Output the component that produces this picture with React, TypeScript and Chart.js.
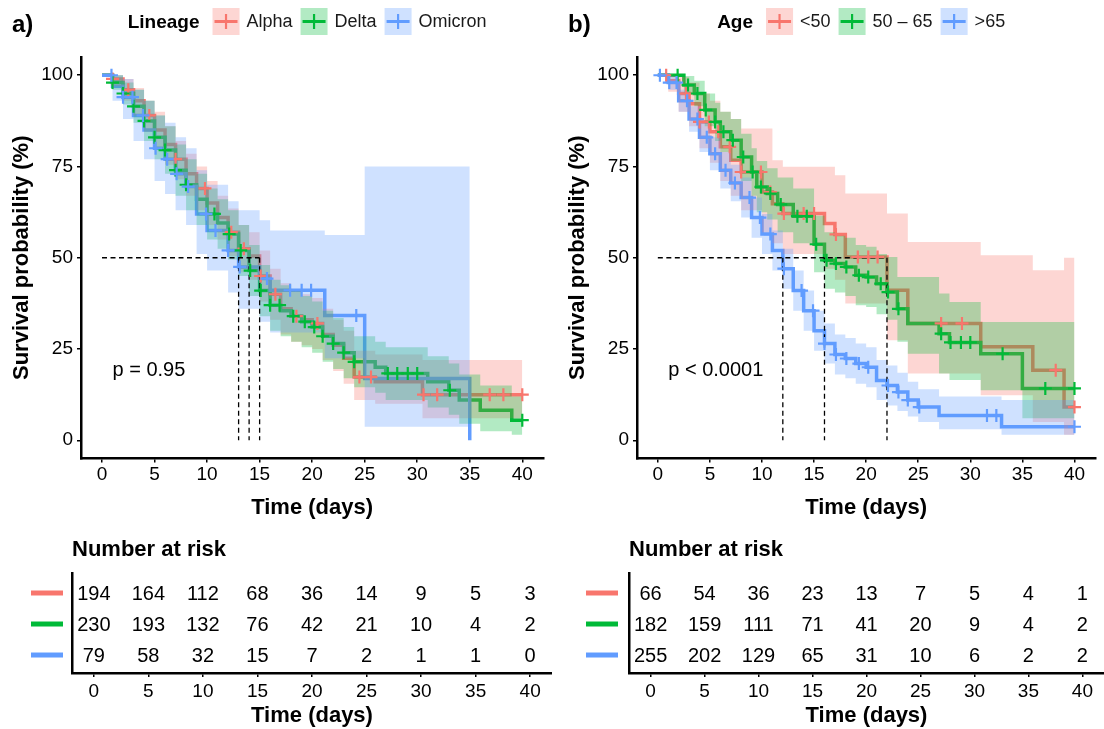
import React, { useEffect, useRef } from 'react';
import { Chart, registerables } from 'chart.js';

Chart.register(...registerables);

const FONT = '"Liberation Sans", Arial, Helvetica, sans-serif';

// ---------------- Panel a: Lineage ----------------
const lineageLabels = ['Alpha', 'Delta', 'Omicron'];
const lineageColors = ['#F8766D', '#00BA38', '#619CFF'];
const lineageMedians = [15, 14, 13];

const alphaTime = [0, 1, 2, 3, 4, 5, 6, 7, 8, 9, 10, 11, 12, 13, 14, 15, 16, 17, 18, 19, 20, 21, 22, 23, 24, 26, 30.5];
const alphaSurv = [100, 99, 96, 93, 89, 85, 81, 77, 73, 69, 65, 61, 57, 52.5, 50.5, 45, 40, 36, 34, 33, 32, 29, 26, 22.5, 17.3, 16, 12.5];
const alphaUpper = [100, 100, 99, 96.5, 93, 90, 86, 82, 78.5, 75, 71, 67, 63.5, 59, 57, 52, 47, 43, 41, 40, 39, 36, 33, 30, 24.5, 23.5, 22];
const alphaLower = [100, 97, 93, 89, 84.5, 80, 75.5, 71.5, 67, 63, 59, 55, 50.5, 46, 44, 38, 33, 29, 27, 26, 25, 22, 19, 15.5, 11, 10, 6];
const alphaEnd = 40;
const alphaCensor = [1, 2.5, 4.5, 7, 9.8, 12.3, 13.5, 15.1, 16.5, 18.5, 20.5, 24.5, 25.6, 30.6, 31.9, 36.9, 38.2, 40];

const deltaTime = [0, 1, 2, 3, 4, 5, 6, 7, 8, 9, 10, 11, 12, 13, 14, 15, 16, 17, 18, 19, 20, 21, 22, 23, 24, 26, 27, 31, 33, 34, 36, 39];
const deltaSurv = [100, 98, 95, 91.5, 87.5, 83, 79.5, 74, 70, 66, 62, 59.5, 56.5, 52, 46.5, 41, 37, 35.5, 34, 32.5, 31, 28.5, 26.5, 24, 21.5, 20, 18.3, 16, 13.7, 11, 8.2, 5.5];
const deltaUpper = [100, 100, 98, 96, 93, 89, 86, 81, 77, 73, 69, 66, 63, 59, 53.5, 48, 44, 42.5, 41, 39.5, 38, 35.5, 33.5, 31, 28.5, 27, 25.5, 23, 21, 18, 15, 12];
const deltaLower = [100, 96, 92, 87, 82, 77, 73, 67, 63, 59, 55, 52.5, 49.5, 45, 39.5, 34, 30, 28.5, 27, 25.5, 24, 21.5, 19.5, 17, 14.5, 13, 11, 9, 7, 4.5, 2.5, 1.5];
const deltaEnd = 40;
const deltaCensor = [1, 2, 3, 4, 5, 6, 7, 8, 10.7, 12.1, 13.2, 14.1, 15.1, 16, 16.9, 18.2, 19.3, 20.2, 21, 22, 23, 24, 27.2, 28.1, 29.1, 30, 33.1, 40];

const omicronTime = [0, 1, 2, 3, 4, 5, 6, 7, 8, 9, 10, 12, 13, 15, 16, 21.2, 25, 35];
const omicronSurv = [100, 97, 94, 89, 85, 80, 77, 73, 69.5, 62, 57.5, 52, 47.5, 44.3, 41.1, 34.2, 16.9, 0];
const omicronUpper = [100, 100, 99, 96, 93, 89, 87, 83, 80, 74, 70, 65.5, 63, 60.3, 57.5, 56.2, 75, 0];
const omicronLower = [100, 93, 88, 82, 77, 71, 67.5, 63, 59, 51, 46.5, 40.5, 36, 32.5, 29.5, 22.5, 3.7, 0];
const omicronEnd = 35;
const omicronCensor = [0.9, 2, 2.9, 3.9, 5.1, 6.2, 7.1, 8.2, 9.9, 10.8, 12, 13.1, 15.7, 17.9, 19, 19.9, 24.2];

// ---------------- Panel b: Age ----------------
const ageLabels = ['<50', '50 \u2013 65', '>65'];
const ageColors = ['#F8766D', '#00BA38', '#619CFF'];
const ageMedians = [22, 16, 12];

const youngTime = [0, 1, 2, 3, 4, 5, 6, 7, 8, 10, 11, 12, 16, 17, 18, 22, 24, 31, 36, 39];
const youngSurv = [100, 98.5, 95, 92.2, 87.2, 84.5, 80.4, 76.7, 73.5, 68, 64.8, 62.1, 59.4, 56.4, 50.2, 41.1, 32, 25.6, 19.2, 9.1];
const youngUpper = [100, 100, 99.5, 98, 95, 93, 90, 88, 85.4, 85.4, 76.7, 74.9, 74.9, 72.6, 67.6, 62.1, 54.3, 50.7, 46.6, 50];
const youngLower = [100, 95.5, 90, 86, 80, 76, 71, 67, 63, 57, 54, 51, 47, 44, 37.5, 27.4, 18.3, 12.3, 5, 1.5];
const youngEnd = 40;
const youngCensor = [0.8, 2.7, 4, 4.9, 5.8, 6.9, 8, 9.9, 10.8, 12.1, 14, 15, 17.1, 19.2, 20.2, 21.1, 27.2, 29.2, 38.2, 40];

const midTime = [0, 2.5, 3.5, 4.5, 5.5, 6, 7, 8, 9, 9.5, 10.5, 11.5, 13, 15, 16, 17, 18, 19, 20, 21, 22, 23, 24, 27, 28, 31, 35];
const midSurv = [100, 97.3, 95, 90.5, 87.2, 84.5, 82.2, 77.6, 73.5, 69.4, 67.6, 64.6, 61.4, 53.7, 49.3, 48.4, 47.5, 45.2, 44.7, 42.9, 40.6, 36, 32, 29.2, 26.8, 23.7, 14.2];
const midUpper = [100, 99.8, 98.5, 95, 92.5, 90, 88, 84, 80, 76.5, 74.5, 72, 69, 61.5, 57, 56, 55.5, 53.5, 53, 51, 50.2, 44.7, 44.7, 40.2, 37.9, 32.4, 32.4];
const midLower = [100, 95, 91.5, 86, 82, 79, 76.5, 71, 67, 62.5, 60.5, 57, 54, 46, 41.5, 40.5, 39.5, 37, 36.5, 34.5, 33, 27, 23.7, 18.3, 16.5, 13.7, 6];
const midEnd = 40;
const midCensor = [1.9, 2.9, 3.8, 4.6, 5.5, 6.3, 7.2, 8.2, 9.1, 9.9, 10.8, 11.8, 13.4, 14.3, 15.2, 16.2, 17.1, 18.1, 19.3, 20.2, 21.4, 22.1, 23.1, 27.2, 28.1, 29.1, 30, 33.1, 37.2, 40];

const oldTime = [0, 1, 2, 3, 4, 5, 6, 7, 8, 9, 10, 11, 12, 13, 14, 15, 16, 17, 18, 19, 20, 21, 22, 23, 24, 25, 27, 33];
const oldSurv = [100, 98, 93, 88, 83, 78.5, 74, 70.5, 66.5, 61, 56.5, 52, 47, 41, 35.5, 30, 26.5, 23.5, 22.4, 21, 20, 16.4, 15, 13.2, 11, 9.1, 6.8, 3.7];
const oldUpper = [100, 100, 96, 91.5, 87, 83, 79, 75.5, 72, 66.5, 62, 57.5, 52.5, 46.5, 41, 35.5, 32, 29, 28, 26.5, 25.5, 22, 20.5, 18.5, 16, 14, 12, 11];
const oldLower = [100, 96, 90, 84.5, 79, 74, 69, 65.5, 61, 55.5, 51, 46.5, 41.5, 35.5, 30, 24.5, 21, 18, 17, 15.5, 14.5, 11, 9.5, 8, 6.5, 5, 3, 1.5];
const oldEnd = 40;
const oldCensor = [0.2, 1.1, 1.8, 2.8, 3.8, 4.7, 5.5, 6.5, 7.4, 8.8, 9.8, 10.8, 12.1, 13.8, 14.9, 16, 17.1, 18.1, 19.3, 20.2, 22.1, 23.1, 24, 25.1, 31.6, 32.5, 40];

// ---------------- Risk tables ----------------
const riskTimes = [0, 5, 10, 15, 20, 25, 30, 35, 40];
const alphaRisk = [194, 164, 112, 68, 36, 14, 9, 5, 3];
const deltaRisk = [230, 193, 132, 76, 42, 21, 10, 4, 2];
const omicronRisk = [79, 58, 32, 15, 7, 2, 1, 1, 0];
const youngRisk = [66, 54, 36, 23, 13, 7, 5, 4, 1];
const midRisk = [182, 159, 111, 71, 41, 20, 9, 4, 2];
const oldRisk = [255, 202, 129, 65, 31, 10, 6, 2, 2];

const xTicks = [0, 5, 10, 15, 20, 25, 30, 35, 40];
const yTicks = [0, 25, 50, 75, 100];

type Series = {
  color: string;
  time: number[];
  surv: number[];
  upper: number[];
  lower: number[];
  end: number;
  censor: number[];
};

function rgba(hex: string, a: number) {
  const n = parseInt(hex.slice(1), 16);
  return `rgba(${(n >> 16) & 255},${(n >> 8) & 255},${n & 255},${a})`;
}

function stepPoints(time: number[], vals: number[], end: number) {
  const pts = time.map((t, i) => ({ x: t, y: vals[i] }));
  if (end > time[time.length - 1]) pts.push({ x: end, y: vals[vals.length - 1] });
  return pts;
}

function survAt(s: Series, t: number) {
  let v = s.surv[0];
  for (let i = 0; i < s.time.length; i++) if (s.time[i] <= t) v = s.surv[i];
  return v;
}

function drawLegend(ctx: CanvasRenderingContext2D, title: string, labels: string[], colors: string[], cx: number, cy: number) {
  ctx.save();
  const titleFont = `bold 19px ${FONT}`;
  const labFont = `18px ${FONT}`;
  ctx.font = titleFont;
  const tw = ctx.measureText(title).width;
  ctx.font = labFont;
  const lw = labels.map((l) => ctx.measureText(l).width);
  const total = tw + 13 + lw.reduce((a, w) => a + 27 + 7 + w, 0) + 8 * (labels.length - 1);
  let x = cx - total / 2;
  ctx.textBaseline = 'middle';
  ctx.textAlign = 'left';
  ctx.fillStyle = '#000';
  ctx.font = titleFont;
  ctx.fillText(title, x, cy + 1);
  x += tw + 13;
  labels.forEach((l, i) => {
    ctx.fillStyle = rgba(colors[i], 0.3);
    ctx.fillRect(x, cy - 13.5, 27, 27);
    ctx.strokeStyle = colors[i];
    ctx.lineWidth = 3;
    ctx.beginPath();
    ctx.moveTo(x + 2, cy);
    ctx.lineTo(x + 25, cy);
    ctx.stroke();
    ctx.lineWidth = 2.2;
    ctx.beginPath();
    ctx.moveTo(x + 13.5, cy - 7.5);
    ctx.lineTo(x + 13.5, cy + 7.5);
    ctx.stroke();
    x += 27 + 7;
    ctx.fillStyle = '#1a1a1a';
    ctx.font = labFont;
    ctx.fillText(l, x, cy + 1);
    x += lw[i] + 8;
  });
  ctx.restore();
}

const tickFont = { family: FONT, size: 19 };
const titleFont = { family: FONT, size: 22, weight: 'bold' as const };

function kmConfig(opts: {
  series: Series[];
  medians: number[];
  yW: number;
  yTitlePad: number;
  legendTitle: string;
  labels: string[];
  colors: string[];
  panelLabel: string;
  labelX: number;
  pText: string;
}): any {
  const { series } = opts;
  const datasets: any[] = [];
  series.forEach((s, k) => {
    datasets.push({
      data: stepPoints(s.time, s.surv, s.end),
      stepped: true,
      borderColor: s.color,
      borderWidth: 3.5,
      pointRadius: 0,
      fill: false,
      order: 30 - k,
    });
  });
  series.forEach((s, k) => {
    datasets.push({
      data: stepPoints(s.time, s.upper, s.end),
      stepped: true,
      borderColor: 'rgba(0,0,0,0)',
      borderWidth: 0,
      pointRadius: 0,
      fill: '+1',
      backgroundColor: rgba(s.color, 0.3),
      order: 20 - k,
    });
    datasets.push({
      data: stepPoints(s.time, s.lower, s.end),
      stepped: true,
      borderColor: 'rgba(0,0,0,0)',
      borderWidth: 0,
      pointRadius: 0,
      fill: false,
      order: 20 - k,
    });
  });
  const maxMed = Math.max(...opts.medians);
  datasets.push({
    data: [{ x: 0, y: 50 }, { x: maxMed, y: 50 }],
    borderColor: '#000',
    borderWidth: 1.3,
    borderDash: [5, 3.5],
    pointRadius: 0,
    fill: false,
    order: 6,
  });
  opts.medians.forEach((m) => {
    datasets.push({
      data: [{ x: m, y: 50 }, { x: m, y: 0 }],
      borderColor: '#000',
      borderWidth: 1.3,
      borderDash: [5, 3.5],
      pointRadius: 0,
      fill: false,
      order: 6,
    });
  });
  series.forEach((s, k) => {
    datasets.push({
      data: s.censor.map((c) => ({ x: c, y: survAt(s, c) })),
      showLine: false,
      pointStyle: 'cross',
      pointRadius: 6.5,
      pointBorderWidth: 2.2,
      pointBorderColor: s.color,
      borderColor: s.color,
      order: 3 - k,
    });
  });

  const deco = {
    id: 'deco',
    afterDraw(chart: any) {
      const ctx = chart.ctx as CanvasRenderingContext2D;
      const ca = chart.chartArea;
      const xs = chart.scales.x;
      const ys = chart.scales.y;
      drawLegend(ctx, opts.legendTitle, opts.labels, opts.colors, (ca.left + ca.right) / 2 - 5, 21.5);
      ctx.save();
      ctx.fillStyle = '#000';
      ctx.font = `bold 24px ${FONT}`;
      ctx.textBaseline = 'middle';
      ctx.textAlign = 'left';
      ctx.fillText(opts.panelLabel, opts.labelX, 25);
      ctx.font = `20px ${FONT}`;
      ctx.fillText(opts.pText, xs.getPixelForValue(1), ys.getPixelForValue(19));
      ctx.restore();
    },
  };

  return {
    type: 'line',
    data: { datasets },
    plugins: [deco],
    options: {
      responsive: false,
      animation: false,
      devicePixelRatio: 1,
      events: [],
      layout: { padding: { top: 57, left: 0, right: 0, bottom: 0 } },
      plugins: { legend: { display: false }, tooltip: { enabled: false } },
      scales: {
        x: {
          type: 'linear',
          min: -2,
          max: 42,
          afterBuildTicks: (s: any) => {
            s.ticks = xTicks.map((v) => ({ value: v }));
          },
          afterFit: (s: any) => {
            s.height = 71.5;
          },
          ticks: { font: tickFont, color: '#000', padding: 1, maxRotation: 0, autoSkip: false, callback: (v: any) => String(v) },
          grid: { display: true, drawOnChartArea: false, drawTicks: true, tickLength: 4, color: '#000', lineWidth: 1.5 },
          border: { display: true, color: '#000', width: 2.5 },
          title: { display: true, text: 'Time (days)', font: titleFont, color: '#000', padding: { top: 0, bottom: 9 } },
        },
        y: {
          type: 'linear',
          min: -5,
          max: 105,
          afterBuildTicks: (s: any) => {
            s.ticks = yTicks.map((v) => ({ value: v }));
          },
          afterFit: (s: any) => {
            s.width = opts.yW;
          },
          ticks: { font: tickFont, color: '#000', padding: 4, autoSkip: false, callback: (v: any) => String(v) },
          grid: { display: true, drawOnChartArea: false, drawTicks: true, tickLength: 4, color: '#000', lineWidth: 1.5 },
          border: { display: true, color: '#000', width: 2.5 },
          title: { display: true, text: 'Survival probability (%)', font: titleFont, color: '#000', padding: { top: opts.yTitlePad, bottom: 0 } },
        },
      },
    },
  };
}

function tableConfig(opts: { rows: number[][]; colors: string[]; yW: number; keyX: number }): any {
  const deco = {
    id: 'tableDeco',
    afterDraw(chart: any) {
      const ctx = chart.ctx as CanvasRenderingContext2D;
      const ca = chart.chartArea;
      const xs = chart.scales.x;
      const ys = chart.scales.y;
      ctx.save();
      ctx.fillStyle = '#000';
      ctx.textBaseline = 'middle';
      ctx.textAlign = 'left';
      ctx.font = `bold 22px ${FONT}`;
      ctx.fillText('Number at risk', ca.left, 20);
      ctx.font = `20px ${FONT}`;
      ctx.textAlign = 'center';
      opts.rows.forEach((row, r) => {
        const y = ys.getPixelForValue(r + 1);
        row.forEach((v, i) => {
          ctx.fillText(String(v), xs.getPixelForValue(riskTimes[i]), y + 1);
        });
        ctx.strokeStyle = opts.colors[r];
        ctx.lineWidth = 5;
        ctx.beginPath();
        ctx.moveTo(opts.keyX, y);
        ctx.lineTo(opts.keyX + 32, y);
        ctx.stroke();
      });
      ctx.restore();
    },
  };
  return {
    type: 'line',
    data: { datasets: [{ data: [], pointRadius: 0 }] },
    plugins: [deco],
    options: {
      responsive: false,
      animation: false,
      devicePixelRatio: 1,
      events: [],
      layout: { padding: { top: 43, left: 0, right: 0, bottom: 0 } },
      plugins: { legend: { display: false }, tooltip: { enabled: false } },
      scales: {
        x: {
          type: 'linear',
          min: -2,
          max: 42,
          afterBuildTicks: (s: any) => {
            s.ticks = xTicks.map((v) => ({ value: v }));
          },
          afterFit: (s: any) => {
            s.height = 56;
          },
          ticks: { font: tickFont, color: '#000', padding: 3, maxRotation: 0, autoSkip: false, callback: (v: any) => String(v) },
          grid: { display: true, drawOnChartArea: false, drawTicks: true, tickLength: 4, color: '#000', lineWidth: 1.5 },
          border: { display: true, color: '#000', width: 2.5 },
          title: { display: true, text: 'Time (days)', font: titleFont, color: '#000', padding: { top: 0, bottom: 0 } },
        },
        y: {
          type: 'linear',
          min: 0.355,
          max: 3.58,
          reverse: true,
          afterFit: (s: any) => {
            s.width = opts.yW;
          },
          ticks: { display: false },
          grid: { display: false },
          border: { display: true, color: '#000', width: 2.5 },
        },
      },
    },
  };
}

function ChartCanvas(props: { left: number; top: number; width: number; height: number; make: () => any }) {
  const ref = useRef<HTMLCanvasElement>(null);
  useEffect(() => {
    const chart = new Chart(ref.current as HTMLCanvasElement, props.make());
    return () => chart.destroy();
  }, []);
  return (
    <canvas
      ref={ref}
      width={props.width}
      height={props.height}
      style={{ position: 'absolute', left: props.left, top: props.top, width: props.width, height: props.height }}
    />
  );
}

const lineageSeries: Series[] = [
  { color: lineageColors[0], time: alphaTime, surv: alphaSurv, upper: alphaUpper, lower: alphaLower, end: alphaEnd, censor: alphaCensor },
  { color: lineageColors[1], time: deltaTime, surv: deltaSurv, upper: deltaUpper, lower: deltaLower, end: deltaEnd, censor: deltaCensor },
  { color: lineageColors[2], time: omicronTime, surv: omicronSurv, upper: omicronUpper, lower: omicronLower, end: omicronEnd, censor: omicronCensor },
];

const ageSeries: Series[] = [
  { color: ageColors[0], time: youngTime, surv: youngSurv, upper: youngUpper, lower: youngLower, end: youngEnd, censor: youngCensor },
  { color: ageColors[1], time: midTime, surv: midSurv, upper: midUpper, lower: midLower, end: midEnd, censor: midCensor },
  { color: ageColors[2], time: oldTime, surv: oldSurv, upper: oldUpper, lower: oldLower, end: oldEnd, censor: oldCensor },
];

export default function App() {
  return (
    <div style={{ position: 'fixed', left: 0, top: 0, width: 1104, height: 729, background: '#fff', overflow: 'hidden' }}>
      <ChartCanvas
        left={0}
        top={0}
        width={552}
        height={530}
        make={() =>
          kmConfig({
            series: lineageSeries,
            medians: lineageMedians,
            yW: 81,
            yTitlePad: 9,
            legendTitle: 'Lineage',
            labels: lineageLabels,
            colors: lineageColors,
            panelLabel: 'a)',
            labelX: 12,
            pText: 'p = 0.95',
          })
        }
      />
      <ChartCanvas
        left={552}
        top={0}
        width={552}
        height={530}
        make={() =>
          kmConfig({
            series: ageSeries,
            medians: ageMedians,
            yW: 85,
            yTitlePad: 13,
            legendTitle: 'Age',
            labels: ageLabels,
            colors: ageColors,
            panelLabel: 'b)',
            labelX: 16,
            pText: 'p < 0.0001',
          })
        }
      />
      <ChartCanvas
        left={0}
        top={530}
        width={552}
        height={199}
        make={() => tableConfig({ rows: [alphaRisk, deltaRisk, omicronRisk], colors: lineageColors, yW: 72, keyX: 31 })}
      />
      <ChartCanvas
        left={552}
        top={530}
        width={552}
        height={199}
        make={() => tableConfig({ rows: [youngRisk, midRisk, oldRisk], colors: ageColors, yW: 77, keyX: 34 })}
      />
    </div>
  );
}
